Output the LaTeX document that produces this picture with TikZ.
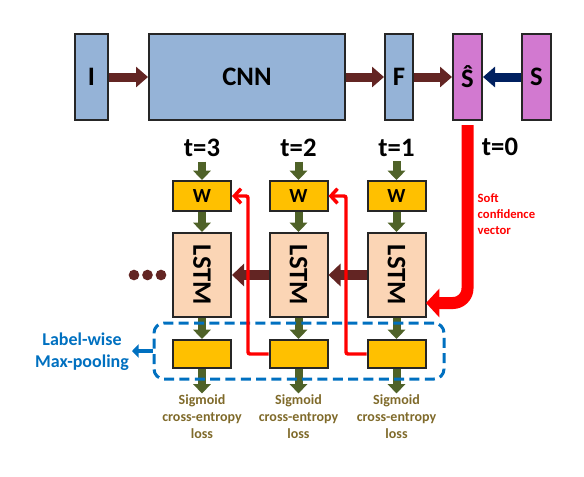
\documentclass[tikz,border=0pt]{standalone}
\usepackage{fontspec}
\setmainfont{Carlito}
\usepackage{graphicx}
\usetikzlibrary{arrows.meta}
\definecolor{boxblue}{HTML}{95B3D7}
\definecolor{boxpink}{HTML}{D279D0}
\definecolor{wyellow}{HTML}{FFC000}
\definecolor{lstmpeach}{HTML}{FBD5B5}
\definecolor{darkbrown}{HTML}{632523}
\definecolor{navy}{HTML}{002060}
\definecolor{olivegreen}{HTML}{4F6228}
\definecolor{poolblue}{HTML}{0070C0}
\definecolor{lossolive}{HTML}{7F6A2A}

\begin{document}
\begin{tikzpicture}[x=0.75pt,y=-0.75pt]
      \tikzstyle{block}=[draw=black!85, line width=1.5pt, inner sep=0pt, font=\fontsize{20}{24}\selectfont\bfseries]
      \tikzstyle{fat}=[line width=6.75pt, -{Triangle[width=15pt,length=9pt]}]
      \tikzstyle{green}=[olivegreen, line width=6pt, -{Triangle[width=13pt,length=7pt]}]
      \tikzstyle{back}=[darkbrown, line width=7.5pt, -{Triangle[width=16.5pt,length=9pt]}]
      \tikzstyle{feedback}=[red, line width=2.6pt, rounded corners=1.5pt, -{Straight Barb[length=5pt,width=11pt]}]
      \tikzstyle{loss}=[lossolive, align=center, inner sep=1pt, font=\fontsize{10.5}{12.75}\selectfont\bfseries]
      \useasboundingbox (0,0) rectangle (584,476);

      % input, CNN and scores
      \foreach \name/\txt/\x/\w/\c in {I/I/91.5/24.75/boxblue, CNN/CNN/247/147/boxblue, F/F/399/21/boxblue, Sh/Ŝ/467.5/21.75/boxpink, S/S/536.5/21.75/boxpink}
        \node[block, fill=\c, minimum width=\w pt, minimum height=64.5pt] (\name) at (\x,77) {\txt};

      \foreach \from/\to in {I/CNN, CNN/F, F/Sh}
        \draw[fat, darkbrown] (\from) -- (\to);
      \draw[fat, navy] (S) -- (Sh);

      % unrolled steps
      \foreach \n/\x in {3/202, 2/298.5, 1/396.5} {
        \node[font=\fontsize{20}{24}\selectfont\bfseries] (t-\n) at (\x,148) {t=\n};
        \node[block, fill=wyellow, minimum width=43.5pt, minimum height=22.5pt, font=\fontsize{15}{17}\selectfont\bfseries] (W-\n) at (\x,196) {W};
        \node[block, fill=lstmpeach, minimum width=43.5pt, minimum height=63pt] (L-\n) at (\x,275) {\rotatebox{-90}{LSTM}};
        \node[block, fill=wyellow, minimum width=43.5pt, minimum height=21pt] (P-\n) at (\x,354) {};
        \node[loss] (loss-\n) at (\x,417) {Sigmoid\\cross-entropy\\loss};
        \draw[green] (t-\n) -- (W-\n);
        \draw[green] (W-\n) -- (L-\n);
        \draw[green] (L-\n) -- (P-\n);
        \draw[green] (P-\n) -- (loss-\n);
      }
      \node[font=\fontsize{20}{24}\selectfont\bfseries] (t-0) at (500,147) {t=0};

      \foreach \from/\to in {1/2, 2/3}
        \draw[back] (L-\from) -- (L-\to);
      \foreach \x in {134,147.5,161}
        \fill[darkbrown] (\x,275) circle (4pt);

      % label-wise max-pooling
      \node[draw=poolblue, line width=2.25pt, dash pattern=on 7.5pt off 4pt, rounded corners=7.5pt, minimum width=217.5pt, minimum height=42pt] (pool) at (299,351) {};
      \coordinate (pooltip) at (132,351);
      \draw[poolblue, line width=3pt, -{Triangle[width=10pt,length=5pt]}] (pool.west) -- (pooltip);
      \node[poolblue, align=center, font=\fontsize{13.5}{16.5}\selectfont\bfseries] (poollabel) at (82,352) {Label-wise\\Max-pooling};

      % soft confidence vector
      \coordinate (softend) at (426,303);
      \draw[red, line width=9pt, rounded corners=11pt, shorten <=3pt, -{Triangle[width=21pt,length=10pt]}] (Sh.south) |- (softend);
      \node[red, anchor=west, align=left, font=\fontsize{9.5}{12}\selectfont\bfseries] (softlabel) at (473,214) {Soft\\confidence\\vector};

      \foreach \from/\to in {2/3, 1/2}
        \draw[feedback] (P-\from.west) -- ++(-20.5,0) |- (W-\to.east);
\end{tikzpicture}
\end{document}
